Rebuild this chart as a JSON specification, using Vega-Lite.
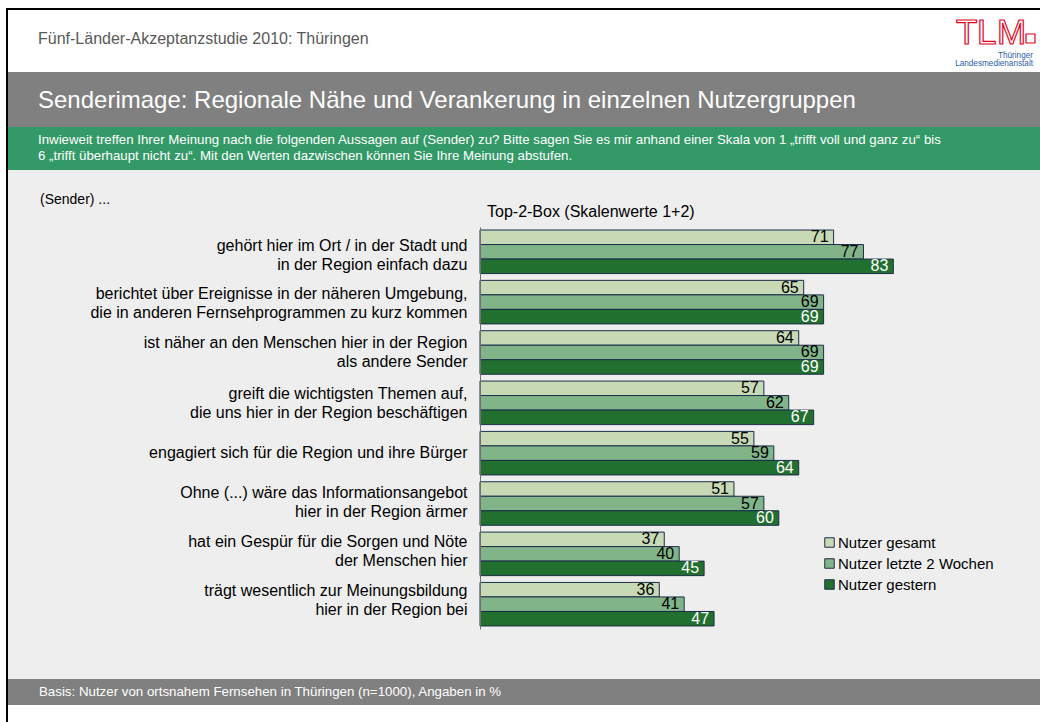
{
  "$schema": "https://vega.github.io/schema/vega-lite/v6.json",
  "width": 498,
  "height": 402,
  "autosize": {"type": "none"},
  "padding": {"left": 480, "top": 227, "right": 62, "bottom": 93},
  "background": "white",
  "config": {
    "view": {"stroke": null},
    "font": "Liberation Sans"
  },
  "data": {
    "values": [
      {"aussage": "gehört hier im Ort / in der Stadt und|in der Region einfach dazu", "gruppe": "Nutzer gesamt", "wert": 71},
      {"aussage": "gehört hier im Ort / in der Stadt und|in der Region einfach dazu", "gruppe": "Nutzer letzte 2 Wochen", "wert": 77},
      {"aussage": "gehört hier im Ort / in der Stadt und|in der Region einfach dazu", "gruppe": "Nutzer gestern", "wert": 83},
      {"aussage": "berichtet über Ereignisse in der näheren Umgebung,|die in anderen Fernsehprogrammen zu kurz kommen", "gruppe": "Nutzer gesamt", "wert": 65},
      {"aussage": "berichtet über Ereignisse in der näheren Umgebung,|die in anderen Fernsehprogrammen zu kurz kommen", "gruppe": "Nutzer letzte 2 Wochen", "wert": 69},
      {"aussage": "berichtet über Ereignisse in der näheren Umgebung,|die in anderen Fernsehprogrammen zu kurz kommen", "gruppe": "Nutzer gestern", "wert": 69},
      {"aussage": "ist näher an den Menschen hier in der Region|als andere Sender", "gruppe": "Nutzer gesamt", "wert": 64},
      {"aussage": "ist näher an den Menschen hier in der Region|als andere Sender", "gruppe": "Nutzer letzte 2 Wochen", "wert": 69},
      {"aussage": "ist näher an den Menschen hier in der Region|als andere Sender", "gruppe": "Nutzer gestern", "wert": 69},
      {"aussage": "greift die wichtigsten Themen auf,|die uns hier in der Region beschäftigen", "gruppe": "Nutzer gesamt", "wert": 57},
      {"aussage": "greift die wichtigsten Themen auf,|die uns hier in der Region beschäftigen", "gruppe": "Nutzer letzte 2 Wochen", "wert": 62},
      {"aussage": "greift die wichtigsten Themen auf,|die uns hier in der Region beschäftigen", "gruppe": "Nutzer gestern", "wert": 67},
      {"aussage": "engagiert sich für die Region und ihre Bürger", "gruppe": "Nutzer gesamt", "wert": 55},
      {"aussage": "engagiert sich für die Region und ihre Bürger", "gruppe": "Nutzer letzte 2 Wochen", "wert": 59},
      {"aussage": "engagiert sich für die Region und ihre Bürger", "gruppe": "Nutzer gestern", "wert": 64},
      {"aussage": "Ohne (...) wäre das Informationsangebot|hier in der Region ärmer", "gruppe": "Nutzer gesamt", "wert": 51},
      {"aussage": "Ohne (...) wäre das Informationsangebot|hier in der Region ärmer", "gruppe": "Nutzer letzte 2 Wochen", "wert": 57},
      {"aussage": "Ohne (...) wäre das Informationsangebot|hier in der Region ärmer", "gruppe": "Nutzer gestern", "wert": 60},
      {"aussage": "hat ein Gespür für die Sorgen und Nöte|der Menschen hier", "gruppe": "Nutzer gesamt", "wert": 37},
      {"aussage": "hat ein Gespür für die Sorgen und Nöte|der Menschen hier", "gruppe": "Nutzer letzte 2 Wochen", "wert": 40},
      {"aussage": "hat ein Gespür für die Sorgen und Nöte|der Menschen hier", "gruppe": "Nutzer gestern", "wert": 45},
      {"aussage": "trägt wesentlich zur Meinungsbildung|hier in der Region bei", "gruppe": "Nutzer gesamt", "wert": 36},
      {"aussage": "trägt wesentlich zur Meinungsbildung|hier in der Region bei", "gruppe": "Nutzer letzte 2 Wochen", "wert": 41},
      {"aussage": "trägt wesentlich zur Meinungsbildung|hier in der Region bei", "gruppe": "Nutzer gestern", "wert": 47}
    ]
  },
  "layer": [
    {"data": {"values": [{}]}, "mark": {"type": "rect", "x": -474, "x2": 560, "y": -219, "y2": 495, "fill": "#000000"}, "encoding": {}},
    {"data": {"values": [{}]}, "mark": {"type": "rect", "x": -472, "x2": 560, "y": -217, "y2": 495, "fill": "#ffffff"}, "encoding": {}},
    {"data": {"values": [{}]}, "mark": {"type": "rect", "x": -472, "x2": 560, "y": -155, "y2": -100, "fill": "#808080"}, "encoding": {}},
    {"data": {"values": [{}]}, "mark": {"type": "rect", "x": -472, "x2": 560, "y": -100, "y2": -57, "fill": "#339966"}, "encoding": {}},
    {"data": {"values": [{}]}, "mark": {"type": "rect", "x": -472, "x2": 560, "y": -57, "y2": 452, "fill": "#eeeeee"}, "encoding": {}},
    {"data": {"values": [{}]}, "mark": {"type": "rect", "x": -472, "x2": 560, "y": 452, "y2": 478, "fill": "#808080"}, "encoding": {}},
    {"data": {"values": [{}]}, "mark": {"type": "text", "text": "Fünf-Länder-Akzeptanzstudie 2010: Thüringen", "x": -442, "y": -183.5, "align": "left", "baseline": "alphabetic", "fontSize": 16, "fill": "#595959"}, "encoding": {}},
    {"data": {"values": [{}]}, "mark": {"type": "text", "text": "Senderimage: Regionale Nähe und Verankerung in einzelnen Nutzergruppen", "x": -442, "y": -119, "align": "left", "baseline": "alphabetic", "fontSize": 24, "fill": "#ffffff"}, "encoding": {}},
    {"data": {"values": [{}]}, "mark": {"type": "text", "text": "Inwieweit treffen Ihrer Meinung nach die folgenden Aussagen auf (Sender) zu? Bitte sagen Sie es mir anhand einer Skala von 1 „trifft voll und ganz zu“ bis", "x": -442, "y": -87, "align": "left", "baseline": "middle", "fontSize": 13.27, "fill": "#ffffff"}, "encoding": {}},
    {"data": {"values": [{}]}, "mark": {"type": "text", "text": "6 „trifft überhaupt nicht zu“. Mit den Werten dazwischen können Sie Ihre Meinung abstufen.", "x": -442, "y": -71, "align": "left", "baseline": "middle", "fontSize": 13.27, "fill": "#ffffff"}, "encoding": {}},
    {"data": {"values": [{}]}, "mark": {"type": "text", "text": "(Sender) ...", "x": -440, "y": -27, "align": "left", "baseline": "middle", "fontSize": 14, "fill": "#000000"}, "encoding": {}},
    {"data": {"values": [{}]}, "mark": {"type": "text", "text": "Top-2-Box (Skalenwerte 1+2)", "x": 7, "y": -15, "align": "left", "baseline": "middle", "fontSize": 16, "fill": "#000000"}, "encoding": {}},
    {"data": {"values": [{}]}, "mark": {"type": "text", "text": "Basis: Nutzer von ortsnahem Fernsehen in Thüringen (n=1000), Angaben in %", "x": -441, "y": 465, "align": "left", "baseline": "middle", "fontSize": 13.3, "fill": "#ffffff"}, "encoding": {}},
    {"data": {"values": [{}]}, "mark": {"type": "text", "text": "T", "x": 476, "y": -183, "align": "left", "baseline": "alphabetic", "fontSize": 35, "fill": "#ffffff", "stroke": "#e2001a", "strokeWidth": 1.2}, "encoding": {}},
    {"data": {"values": [{}]}, "mark": {"type": "text", "text": "L", "x": 497, "y": -183, "align": "left", "baseline": "alphabetic", "fontSize": 35, "fill": "#ffffff", "stroke": "#e2001a", "strokeWidth": 1.2}, "encoding": {}},
    {"data": {"values": [{}]}, "mark": {"type": "text", "text": "M", "x": 517, "y": -183, "align": "left", "baseline": "alphabetic", "fontSize": 35, "fill": "#ffffff", "stroke": "#e2001a", "strokeWidth": 1.2}, "encoding": {}},
    {"data": {"values": [{}]}, "mark": {"type": "rect", "x": 546, "x2": 555, "y": -193, "y2": -184, "fill": "#ffffff", "stroke": "#e2001a", "strokeWidth": 1.2}, "encoding": {}},
    {"data": {"values": [{}]}, "mark": {"type": "text", "text": "Thüringer", "x": 553, "y": -171, "align": "right", "baseline": "middle", "fontSize": 8.2, "fill": "#2b5ea7"}, "encoding": {}},
    {"data": {"values": [{}]}, "mark": {"type": "text", "text": "Landesmedienanstalt", "x": 553, "y": -163, "align": "right", "baseline": "middle", "fontSize": 8.2, "fill": "#2b5ea7"}, "encoding": {}},
    {
      "mark": {"type": "bar", "stroke": "#1c2e4a", "strokeWidth": 1},
      "encoding": {
        "y": {
          "field": "aussage", "type": "nominal", "sort": null,
          "scale": {"paddingInner": 0.135, "paddingOuter": 0.06},
          "axis": {
            "title": null, "ticks": false, "labelPadding": 13, "labelFontSize": 16,
            "labelColor": "#000000", "labelLineHeight": 19, "labelLimit": 600,
            "labelExpr": "split(datum.label, '|')",
            "labelOffset": {
              "condition": [
                {"test": "indexof(datum.value, 'gehört') === 0", "value": -6},
                {"test": "indexof(datum.value, 'berichtet') === 0", "value": -8},
                {"test": "indexof(datum.value, 'ist näher') === 0", "value": -9},
                {"test": "indexof(datum.value, 'greift') === 0", "value": -9},
                {"test": "indexof(datum.value, 'Ohne') === 0", "value": -10.5},
                {"test": "indexof(datum.value, 'hat ein') === 0", "value": -12},
                {"test": "indexof(datum.value, 'trägt') === 0", "value": -13}
              ],
              "value": 0
            },
            "domainColor": "#6f6f6f", "zindex": 1
          }
        },
        "yOffset": {
          "field": "gruppe", "type": "nominal",
          "sort": ["Nutzer gesamt", "Nutzer letzte 2 Wochen", "Nutzer gestern"],
          "scale": {"paddingInner": 0, "paddingOuter": 0}
        },
        "x": {"field": "wert", "type": "quantitative", "scale": {"domain": [0, 100]}, "axis": null},
        "color": {
          "field": "gruppe", "type": "nominal",
          "scale": {"domain": ["Nutzer gesamt", "Nutzer letzte 2 Wochen", "Nutzer gestern"], "range": ["#c8dab5", "#82b48a", "#21702f"]},
          "legend": {
            "title": null, "orient": "none", "legendX": 342, "legendY": 308,
            "labelFontSize": 15, "labelColor": "#000000", "symbolType": "square", "symbolSize": 90,
            "symbolStrokeColor": "#1c2e4a", "symbolStrokeWidth": 1, "rowPadding": 5, "labelOffset": 1, "padding": 0
          }
        }
      }
    },
    {
      "mark": {"type": "text", "align": "right", "baseline": "middle", "dx": -5, "fontSize": 16},
      "encoding": {
        "y": {"field": "aussage", "type": "nominal", "sort": null},
        "yOffset": {"field": "gruppe", "type": "nominal", "sort": ["Nutzer gesamt", "Nutzer letzte 2 Wochen", "Nutzer gestern"]},
        "x": {"field": "wert", "type": "quantitative"},
        "text": {"field": "wert", "type": "quantitative"},
        "color": {"condition": {"test": "datum.gruppe === 'Nutzer gestern'", "value": "#ffffff"}, "value": "#000000"}
      }
    }
  ]
}
